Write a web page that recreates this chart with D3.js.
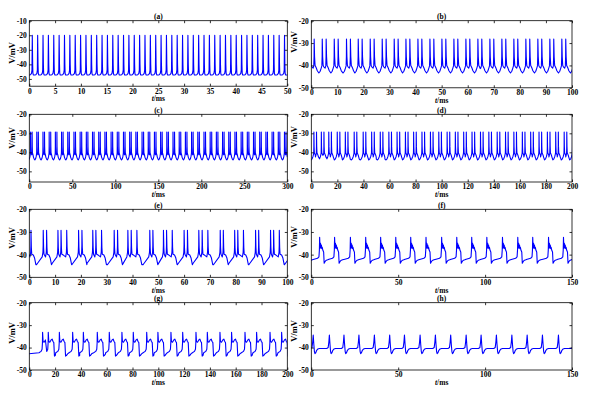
<!DOCTYPE html>
<html>
<head>
<meta charset="utf-8">
<script src="https://cdn.jsdelivr.net/npm/d3@7/dist/d3.min.js"></script>
<style>
  body { margin: 0; background: #fff; }
  text { font-family: "Liberation Serif", "Times New Roman", serif; font-weight: bold; fill: #000; }
</style>
</head>
<body>
<div id="chart"></div>
<script>
// spike peak times (ms)
const spikesA = [-0.46, 0.58, 1.62, 2.66, 3.70, 4.74, 5.78, 6.82, 7.86, 8.90, 9.94, 10.98, 12.02, 13.06, 14.10,
  15.14, 16.18, 17.22, 18.26, 19.30, 20.34, 21.38, 22.42, 23.46, 24.50, 25.54, 26.58, 27.62, 28.66, 29.70,
  30.74, 31.78, 32.82, 33.86, 34.90, 35.94, 36.98, 38.02, 39.06, 40.10, 41.14, 42.18, 43.22, 44.26, 45.30,
  46.34, 47.38, 48.42, 49.46, 50.50];
const spikesB = [-0.4, 1.1, 4.2, 5.7, 8.8, 10.3, 13.5, 15.0, 18.0, 19.5, 22.6, 24.1, 27.2, 28.7, 31.8, 33.3,
  36.3, 37.8, 40.9, 42.4, 45.5, 47.0, 50.1, 51.6, 54.7, 56.2, 59.3, 60.8, 63.9, 65.4, 68.5, 70.0, 73.1, 74.6,
  77.7, 79.2, 82.3, 83.8, 86.9, 88.4, 91.5, 93.0, 96.1, 97.6, 100.7];
const spikesC = [1.5, 3.3, 8.7, 10.5, 15.9, 17.7, 23.1, 24.9, 30.3, 32.1, 37.5, 39.3, 44.7, 46.5, 51.9, 53.7,
  59.1, 60.9, 66.3, 68.1, 73.5, 75.3, 80.7, 82.5, 87.9, 89.7, 95.1, 96.9, 102.3, 104.1, 109.5, 111.3,
  116.7, 118.5, 123.9, 125.7, 131.1, 132.9, 138.3, 140.1, 145.5, 147.3, 152.7, 154.5, 159.9, 161.7,
  167.1, 168.9, 174.3, 176.1, 181.5, 183.3, 188.7, 190.5, 195.9, 197.7, 203.1, 204.9, 210.3, 212.1,
  217.5, 219.3, 224.7, 226.5, 231.9, 233.7, 239.1, 240.9, 246.3, 248.1, 253.5, 255.3, 260.7, 262.5,
  267.9, 269.7, 275.1, 276.9, 282.3, 284.1, 289.5, 291.3, 296.7, 298.5];
const spikesD = [2.0, 4.0, 7.7, 9.7, 13.4, 15.4, 19.9, 21.9, 26.1, 28.1, 32.9, 34.9, 39.8, 41.8, 46.3, 48.3,
  52.9, 54.9, 59.5, 61.5, 65.8, 67.8, 72.2, 74.2, 78.5, 80.5, 84.9, 86.9, 91.4, 93.4, 97.8, 99.8,
  104.2, 106.2, 110.5, 112.5, 116.9, 118.9, 123.3, 125.3, 129.8, 131.8, 136.2, 138.2, 142.6, 144.6,
  149.0, 151.0, 155.4, 157.4, 161.9, 163.9, 168.3, 170.3, 174.7, 176.7, 181.1, 183.1, 187.5, 189.5,
  194.0, 196.0, 200.4];
const spikesE = [-1.0, 0.65, 5.4, 6.7, 11.1, 12.3, 14.5, 19.1, 20.4, 24.6, 25.8, 28.0, 32.9, 34.2, 38.2, 39.5,
  41.7, 46.7, 47.9, 52.0, 53.2, 55.4, 60.0, 61.3, 65.7, 67.0, 69.2, 74.0, 75.2, 79.6, 80.8, 83.0, 87.7,
  88.9, 93.5, 94.7, 96.9, 101.5];
const spikesF = [-4.0, 4.8, 13.4, 22.5, 31.3, 39.9, 48.6, 57.2, 66.0, 75.0, 83.7, 92.3, 101.0, 110.0, 118.8,
  127.4, 136.5, 145.1, 153.9];
const spikesG = [-7.0, 10.3, 14.7, 23.3, 33.6, 41.9, 52.7, 62.0, 71.8, 80.6, 91.0, 99.7, 109.8, 118.9, 129.2,
  138.0, 147.8, 156.8, 167.2, 176.2, 186.6, 195.6, 205.0];
const spikesH = [-7.7, 1.1, 10.4, 18.8, 27.4, 36.3, 45.1, 53.6, 62.6, 71.4, 80.2, 89.1, 97.7, 106.5, 115.4,
  124.2, 133.0, 142.2, 151.0];

// spike shape per panel as [ms from peak, mV]: head = peak and after, lead = run-up before the peak
const headA = [[0, -20], [0.07, -40], [0.12, -46], [0.2, -47.2], [0.5, -47.3]];
const leadA = [[-0.35, -47.1], [-0.15, -46.2], [-0.06, -44]];
const headB = [[0, -28.2], [0.15, -36], [0.35, -40], [0.6, -40.6], [0.9, -41.4], [1.2, -42.4]];
const leadB = [[-2.0, -43.2], [-1.3, -43.4], [-0.8, -42.6], [-0.4, -41.2], [-0.15, -40.2], [-0.04, -36]];
const headCD = [[0, -29.3], [0.15, -37], [0.35, -40.2], [0.7, -40.8], [1.1, -41.5], [1.5, -42.5]];
const leadCD = [[-3.0, -43.6], [-2.2, -44.0], [-1.4, -43.4], [-0.8, -42.4], [-0.4, -41.3], [-0.15, -40.4], [-0.04, -37]];
const headE = [[0, -29.3], [0.15, -37], [0.3, -39.8], [0.9, -40.2], [1.4, -41.5], [1.9, -44.4]];
const leadE = [[-2.6, -44.4], [-2.2, -43.8], [-0.4, -41.0], [-0.12, -39], [-0.03, -36]];
const headF = [[0, -32.3], [0.25, -37.2], [0.5, -35], [0.75, -37], [1.0, -35.8], [1.25, -37.4], [1.5, -36.8],
  [1.9, -38.2], [2.3, -38.8], [2.6, -43.8], [3.0, -43.2], [3.6, -42.6], [4.6, -42.3]];
const leadF = [[-3.2, -42.0], [-1.2, -41.6], [-0.4, -41.0], [-0.15, -38]];
const headG = [[0, -33.2], [0.4, -37.3], [1.2, -37.6], [2.2, -36.6], [3.0, -36.2], [3.6, -37.2], [4.3, -37.8],
  [4.8, -43.8], [5.4, -43.6], [6.4, -42.8]];
const leadG = [[-2.8, -42.3], [-1.2, -41.7], [-0.4, -40.8], [-0.12, -38]];
const headH = [[0, -34.4], [0.35, -38.5], [0.7, -41.8], [1.0, -42.7], [1.4, -42.4], [2.0, -41.2], [2.7, -40.6], [3.5, -40.4]];
const leadH = [[-3.5, -40.4], [-1.5, -40.4], [-0.7, -40.0], [-0.3, -37.5]];

// tick labels
const xTicksA = [0, 5, 10, 15, 20, 25, 30, 35, 40, 45, 50];
const xTicksB = [0, 10, 20, 30, 40, 50, 60, 70, 80, 90, 100];
const xTicksC = [0, 50, 100, 150, 200, 250, 300];
const xTicksD = [0, 20, 40, 60, 80, 100, 120, 140, 160, 180, 200];
const xTicksF = [0, 50, 100, 150];
const yTicksA = [-10, -20, -30, -40, -50];
const yTicks = [-20, -30, -40, -50];

const titles = ['(a)', '(b)', '(c)', '(d)', '(e)', '(f)', '(g)', '(h)'];

const width = 590, height = 394;
const colL = [29.3, 287.3], colR = [311.3, 572];

const panels = [
  {spikes: spikesA, head: headA, lead: leadA, xTicks: xTicksA, yTicks: yTicksA, x: [0, 50],  y: [-55, -10],   cols: colL, rows: [20.7, 86.2],  labY: 53},
  {spikes: spikesB, head: headB, lead: leadB, xTicks: xTicksB, yTicks: yTicks,  x: [0, 100], y: [-50, -20],   cols: colR, rows: [20.7, 87.8],  labY: 42},
  {spikes: spikesC, head: headCD, lead: leadCD, xTicks: xTicksC, yTicks: yTicks, x: [0, 300], y: [-55.6, -20], cols: colL, rows: [114.3, 182], labY: 138},
  {spikes: spikesD, head: headCD, lead: leadCD, xTicks: xTicksD, yTicks: yTicks, x: [0, 200], y: [-55.6, -20], cols: colR, rows: [114.3, 182], labY: 137},
  {spikes: spikesE, head: headE, lead: leadE, xTicks: xTicksB, yTicks: yTicks,  x: [0, 100], y: [-50, -20],   cols: colL, rows: [209.3, 277.3], labY: 238},
  {spikes: spikesF, head: headF, lead: leadF, xTicks: xTicksF, yTicks: yTicks,  x: [0, 150], y: [-50, -20],   cols: colR, rows: [209.3, 277.3], labY: 237},
  {spikes: spikesG, head: headG, lead: leadG, xTicks: xTicksD, yTicks: yTicks,  x: [0, 200], y: [-50, -20],   cols: colL, rows: [302.7, 370],  labY: 333},
  {spikes: spikesH, head: headH, lead: leadH, xTicks: xTicksF, yTicks: yTicks,  x: [0, 150], y: [-50, -20],   cols: colR, rows: [302.7, 370],  labY: 331}
];

// chain the shape at every spike time; head and next lead share the gap between spikes
function buildTrace(spikes, head, lead) {
  const pts = [];
  const headEnd = head[head.length - 1][0];
  lead.forEach(p => pts.push([spikes[0] + p[0], p[1]]));
  spikes.forEach((t, i) => {
    if (i === spikes.length - 1) {
      head.forEach(p => pts.push([t + p[0], p[1]]));
      return;
    }
    const gap = spikes[i + 1] - t;
    const cut = Math.max(gap + lead[0][0], Math.min(0.6 * gap, headEnd + 0.01));
    head.forEach(p => { if (p[0] < cut) pts.push([t + p[0], p[1]]); });
    lead.forEach(p => { if (gap + p[0] >= cut) pts.push([spikes[i + 1] + p[0], p[1]]); });
  });
  return pts;
}

const svg = d3.select('#chart').append('svg')
  .attr('width', width)
  .attr('height', height);

const fmt = d => String(d);
const tick = 2.5;

panels.forEach((p, i) => {
  const [left, right] = p.cols, [top, bottom] = p.rows;
  const x = d3.scaleLinear().domain(p.x).range([left, right]);
  const y = d3.scaleLinear().domain(p.y).range([bottom, top]);
  const g = svg.append('g');

  g.append('clipPath').attr('id', 'clip' + i)
    .append('rect').attr('x', left).attr('y', top).attr('width', right - left).attr('height', bottom - top);

  g.append('path')
    .datum(buildTrace(p.spikes, p.head, p.lead))
    .attr('clip-path', `url(#clip${i})`)
    .attr('fill', 'none')
    .attr('stroke', '#0000ff')
    .attr('stroke-width', 1.1)
    .attr('stroke-linejoin', 'round')
    .attr('d', d3.line().x(d => x(d[0])).y(d => y(d[1])));

  // axes, ticks pointing inward on all four sides
  const ax = [
    [d3.axisBottom(x).tickValues(p.xTicks).tickFormat(fmt).tickSizeInner(-tick).tickPadding(2), `translate(0,${bottom})`],
    [d3.axisTop(x).tickValues(p.xTicks).tickFormat('').tickSizeInner(-tick), `translate(0,${top})`],
    [d3.axisLeft(y).tickValues(p.yTicks).tickFormat(fmt).tickSizeInner(-tick).tickPadding(2.5), `translate(${left},0)`],
    [d3.axisRight(y).tickValues(p.yTicks).tickFormat('').tickSizeInner(-tick), `translate(${right},0)`]
  ];
  ax.forEach(([axis, tr]) => {
    const a = g.append('g').attr('transform', tr).call(axis.tickSizeOuter(0));
    a.select('.domain').remove();
    a.selectAll('line').attr('stroke', '#000').attr('stroke-width', 0.8);
    a.selectAll('text').attr('font-size', 7.5).attr('font-family', null);
  });

  g.append('rect')
    .attr('x', left).attr('y', top)
    .attr('width', right - left).attr('height', bottom - top)
    .attr('fill', 'none').attr('stroke', '#000').attr('stroke-width', 0.8);

  g.append('text')
    .attr('x', (left + right) / 2).attr('y', top - 1.5)
    .attr('text-anchor', 'middle').attr('font-size', 7.5)
    .text(titles[i]);

  const xl = g.append('text')
    .attr('x', (left + right) / 2).attr('y', bottom + 15.2)
    .attr('text-anchor', 'middle').attr('font-size', 7.5);
  xl.append('tspan').attr('font-style', 'italic').text('t');
  xl.append('tspan').text('/ms');

  const lx = left - 14;
  g.append('text')
    .attr('transform', `translate(${lx},${p.labY}) rotate(-90)`)
    .attr('text-anchor', 'middle').attr('font-size', 8.5)
    .text('V/mV');
});
</script>
</body>
</html>
